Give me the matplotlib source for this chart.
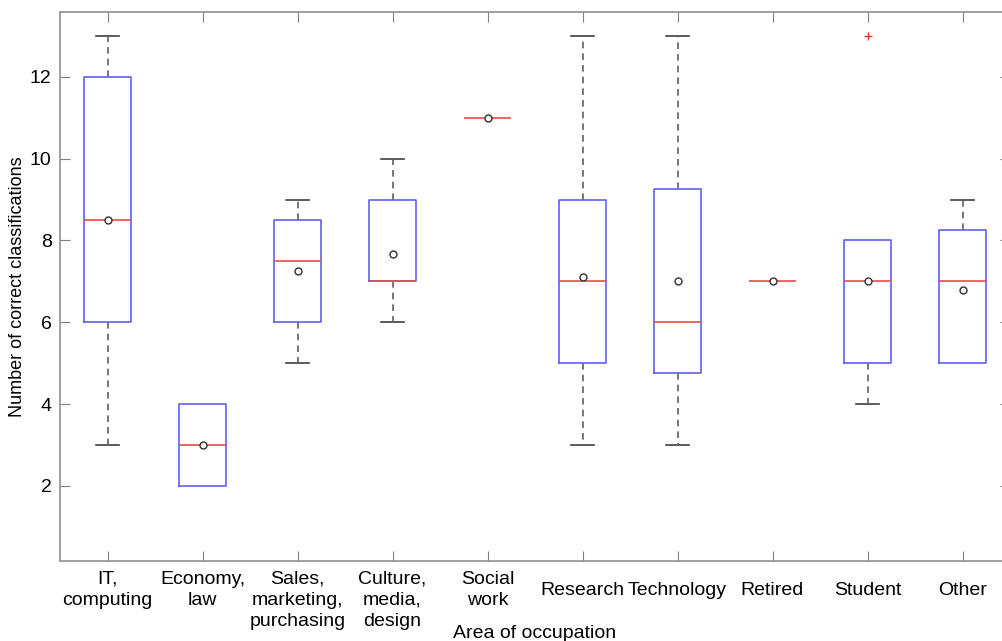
import matplotlib
matplotlib.use('Agg')
import matplotlib.pyplot as plt

plt.rcParams['font.family'] = ['Liberation Sans', 'DejaVu Sans']

# Résumé des classifications correctes par domaine d'activité
categories = ['IT,\ncomputing', 'Economy,\nlaw', 'Sales,\nmarketing,\npurchasing',
              'Culture,\nmedia,\ndesign', 'Social\nwork', 'Research', 'Technology',
              'Retired', 'Student', 'Other']
whisker_low = [3, 2, 5, 6, 11, 3, 3, 7, 4, 5]
q1 = [6, 2, 6, 7, 11, 5, 4.75, 7, 5, 5]
medians = [8.5, 3, 7.5, 7, 11, 7, 6, 7, 7, 7]
q3 = [12, 4, 8.5, 9, 11, 9, 9.25, 7, 8, 8.25]
whisker_high = [13, 4, 9, 10, 11, 13, 13, 7, 8, 9]
means = [8.5, 3, 7.25, 7.68, 11, 7.1, 7, 7, 7, 6.8]
outliers = [[], [], [], [], [], [], [], [], [13], []]

stats = []
for i in range(len(categories)):
    stats.append({'whislo': whisker_low[i], 'q1': q1[i], 'med': medians[i],
                  'q3': q3[i], 'whishi': whisker_high[i], 'mean': means[i],
                  'fliers': outliers[i]})

fig = plt.figure(figsize=(10.03, 6.41), dpi=100)
ax = fig.add_axes([60 / 1003, 80 / 641, 950 / 1003, 549 / 641])

parts = ax.bxp(stats, positions=range(1, 11), widths=0.5, showmeans=True,
               boxprops=dict(color='#6060f2', linewidth=1.2, zorder=3),
               medianprops=dict(color='#f04848', linewidth=1.2, zorder=4),
               whiskerprops=dict(color='#606060', linestyle=(0, (4, 3)), linewidth=1.2, zorder=2),
               capprops=dict(color='#404040', linewidth=1.2, zorder=1),
               meanprops=dict(marker='o', markerfacecolor='white', markeredgecolor='#303030',
                              markersize=5, markeredgewidth=1, zorder=5),
               flierprops=dict(marker='+', markeredgecolor='#ee3030', markersize=6,
                               markeredgewidth=1))

# pas de moustache quand elle se confond avec le bord de la boîte
for i, box in enumerate(parts['boxes']):
    if q1[i] == q3[i]:
        box.set_visible(False)
    if whisker_low[i] == q1[i]:
        parts['caps'][2 * i].set_visible(False)
    if whisker_high[i] == q3[i]:
        parts['caps'][2 * i + 1].set_visible(False)

ax.set_xlim(0.5, 10.5)
ax.set_ylim(0.164, 13.586)
ax.set_yticks([2, 4, 6, 8, 10, 12])
ax.set_xticks(range(1, 11))
ax.set_xticklabels(categories, fontsize=14, linespacing=1.3)
ax.tick_params(axis='y', labelsize=14, pad=6)
ax.tick_params(direction='in', length=7, color='#808080', top=True, right=True)
ax.tick_params(axis='x', pad=7)

# les étiquettes sur une seule ligne sont centrées sur deux lignes
for tick, label in zip(ax.xaxis.get_major_ticks(), categories):
    if '\n' not in label:
        tick.set_pad(15)

for s in ax.spines.values():
    s.set_color('#909090')
    s.set_linewidth(1.2)

ax.set_ylabel('Number of correct classifications', fontsize=13)
ax.yaxis.set_label_coords(-0.036, 0.5)
ax.set_xlabel('Area of occupation', fontsize=14)
ax.xaxis.set_label_coords(0.5, -0.117)

plt.savefig('out.png', dpi=100)
